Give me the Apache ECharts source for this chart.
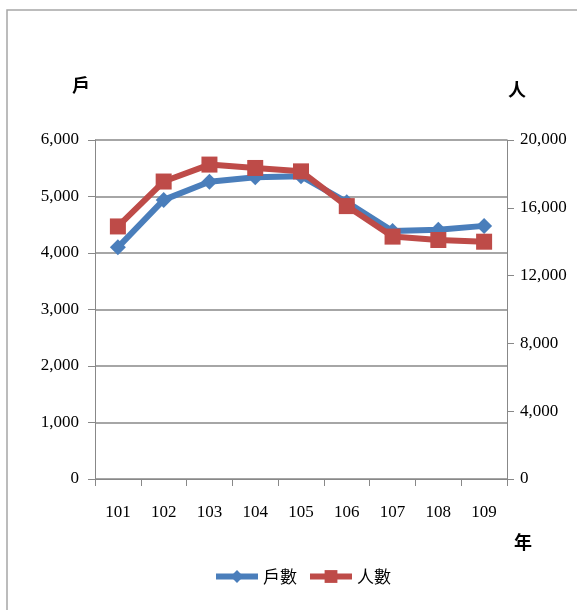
<!DOCTYPE html>
<html><head><meta charset="utf-8">
<script src="https://cdn.jsdelivr.net/npm/echarts@6/dist/echarts.min.js"></script>
<style>html,body{margin:0;padding:0;background:#fff}#c{width:577px;height:610px}</style>
</head><body><div id="c"></div>
<script>
const categories = ['101','102','103','104','105','106','107','108','109'];
const households = [4100, 4940, 5260, 5340, 5360, 4900, 4390, 4410, 4480];
const population = [14900, 17550, 18550, 18350, 18150, 16100, 14300, 14100, 14000];
const leftTicks = [0, 1000, 2000, 3000, 4000, 5000, 6000];
const rightTicks = [0, 4000, 8000, 12000, 16000, 20000];

const serif = '"Liberation Serif","DejaVu Serif",serif';
const cjk = '"Noto Sans CJK TC","Noto Sans CJK SC",sans-serif';
const fmt = v => v.toLocaleString('en-US');
const chart = echarts.init(document.getElementById('c'), null, {renderer:'canvas'});
chart.setOption({
  animation:false,
  backgroundColor:'#fff',
  graphic:[
    {type:'polyline', shape:{points:[[7,700],[7,10],[800,10]]}, style:{stroke:'#a6a6a6', lineWidth:1.5, fill:null}},
    {type:'text', left:72, top:76, style:{text:'戶', font:'bold 18px '+cjk, fill:'#000'}},
    {type:'text', left:508, top:80, style:{text:'人', font:'bold 18px '+cjk, fill:'#000'}},
    {type:'text', left:514, top:533, style:{text:'年', font:'bold 18px '+cjk, fill:'#000'}}
  ],
  grid:{left:95, right:70, top:140, bottom:131, containLabel:false},
  legend:{
    top:563, left:208, itemWidth:42, itemHeight:16, itemGap:10,
    lineStyle:{width:6},
    textStyle:{fontFamily:cjk, fontSize:17, color:'#000'},
    data:['戶數','人數']
  },
  xAxis:{
    type:'category', data:categories, boundaryGap:true,
    axisLine:{lineStyle:{color:'#888', width:1}},
    axisTick:{show:true, alignWithLabel:false, length:7, lineStyle:{color:'#888'}},
    axisLabel:{fontFamily:serif, fontSize:17, color:'#000', margin:25}
  },
  yAxis:[
    {type:'value', min:leftTicks[0], max:leftTicks[leftTicks.length-1], interval:1000,
     axisLine:{show:true, lineStyle:{color:'#888'}},
     axisTick:{show:true, length:7, lineStyle:{color:'#888'}},
     splitLine:{show:true, lineStyle:{color:'#888', width:1.5}},
     axisLabel:{fontFamily:serif, fontSize:17, color:'#000', margin:16, formatter:fmt}},
    {type:'value', min:rightTicks[0], max:rightTicks[rightTicks.length-1], interval:4000, position:'right',
     axisLine:{show:true, lineStyle:{color:'#888'}},
     axisTick:{show:true, length:7, lineStyle:{color:'#888'}},
     splitLine:{show:false},
     axisLabel:{fontFamily:serif, fontSize:17, color:'#000', margin:13, formatter:fmt}}
  ],
  series:[
    {name:'戶數', type:'line', yAxisIndex:0, data:households, symbol:'diamond', symbolSize:16,
     lineStyle:{color:'#4a7ebb', width:6}, itemStyle:{color:'#4a7ebb'}, z:2},
    {name:'人數', type:'line', yAxisIndex:1, data:population, symbol:'rect', symbolSize:16,
     lineStyle:{color:'#be4b48', width:6}, itemStyle:{color:'#be4b48'}, z:3}
  ]
});
</script></body></html>
